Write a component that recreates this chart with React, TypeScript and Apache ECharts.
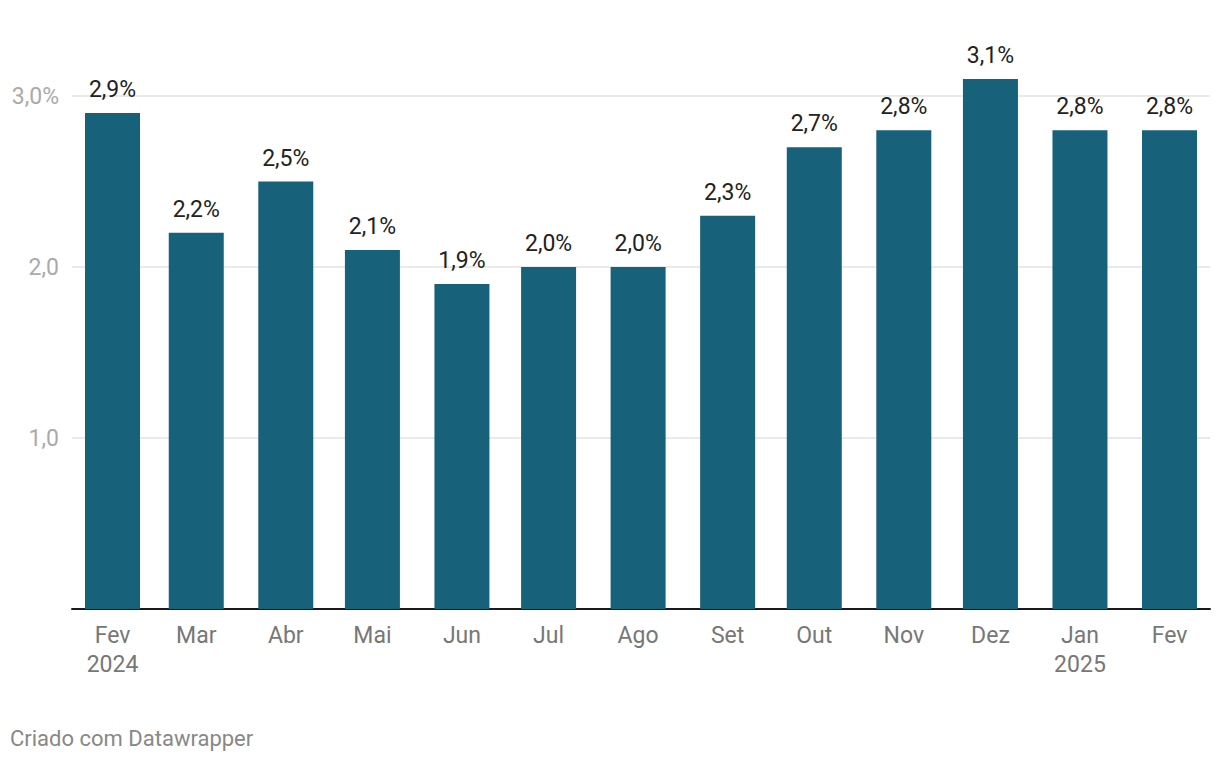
import React, { useEffect, useRef } from "react";
import * as echarts from "echarts";

const monthDates = [
  "2024-02-01", "2024-03-01", "2024-04-01", "2024-05-01", "2024-06-01", "2024-07-01",
  "2024-08-01", "2024-09-01", "2024-10-01", "2024-11-01", "2024-12-01", "2025-01-01", "2025-02-01",
];
const categories = ["Fev\n2024", "Mar", "Abr", "Mai", "Jun", "Jul", "Ago", "Set", "Out", "Nov", "Dez", "Jan\n2025", "Fev"];
const values = [2.9, 2.2, 2.5, 2.1, 1.9, 2.0, 2.0, 2.3, 2.7, 2.8, 3.1, 2.8, 2.8];
const yTicks = [0, 1, 2, 3];
const yTickLabels = ["", "1,0", "2,0", "3,0%"];
const footer = "Criado com Datawrapper";

const FONT = "Roboto, 'Noto Sans', sans-serif";
const DAY = 86400000;

function toDay(s: string) {
  const [y, m, d] = s.split("-").map(Number);
  return Math.round(Date.UTC(y, m - 1, d) / DAY);
}

export default function App() {
  const ref = useRef<HTMLDivElement>(null);
  useEffect(() => {
    if (!ref.current) return;
    const chart = echarts.init(ref.current, null, { renderer: "svg" });
    const day0 = toDay(monthDates[0]);
    const days = monthDates.map((s) => toDay(s) - day0);
    const data = days.map((d, i) => [d, values[i]]);
    const unit = 171;
    const baseY = 609;
    const yMax = 3.5;
    const top = baseY - yMax * unit;
    const firstX = 112.5;
    const lastX = 1169.5;
    const spanDays = days[days.length - 1];
    const pxPerDay = (lastX - firstX) / spanDays;
    const padDays = 15;
    const gridLeft = firstX - padDays * pxPerDay;
    const gridRight = 1220 - (lastX + padDays * pxPerDay);
    const gl = "#e3e3e3";
    chart.setOption({
      animation: false,
      textStyle: { fontFamily: FONT },
      grid: [
        { left: gridLeft, right: gridRight, top, bottom: 762 - baseY },
        { left: 72, right: 10, top, bottom: 762 - baseY },
      ],
      xAxis: [
        {
          type: "value",
          gridIndex: 0,
          min: -padDays,
          max: spanDays + padDays,
          axisLine: { show: false },
          axisTick: { show: false },
          splitLine: { show: false },
          axisLabel: {
            customValues: days,
            color: "#777777",
            fontSize: 23,
            lineHeight: 29,
            margin: 12,
            fontFamily: FONT,
            showMinLabel: true,
            showMaxLabel: true,
            formatter: (v: number) => {
              const i = days.indexOf(Math.round(v));
              return i >= 0 ? categories[i] : "";
            },
          },
        },
        {
          type: "value",
          gridIndex: 1,
          min: 0,
          max: 1,
          axisLine: { show: true, onZero: false, lineStyle: { color: "#1a1a1a", width: 2 } },
          axisTick: { show: false },
          axisLabel: { show: false },
          splitLine: { show: false },
        },
      ],
      yAxis: [
        {
          type: "value",
          gridIndex: 0,
          min: 0,
          max: yMax,
          interval: 1,
          axisLine: { show: false },
          axisTick: { show: false },
          axisLabel: { show: false },
          splitLine: { show: false },
        },
        {
          type: "value",
          gridIndex: 1,
          min: 0,
          max: yMax,
          interval: 1,
          axisLine: { show: false },
          axisTick: { show: false },
          splitLine: {
            show: true,
            lineStyle: { color: [gl, gl, gl, gl, "rgba(0,0,0,0)"], width: 1.5 },
          },
          axisLabel: {
            color: "#aaaaaa",
            fontSize: 23,
            margin: 13,
            fontFamily: FONT,
            formatter: (v: number) => {
              const i = yTicks.indexOf(v);
              return i >= 0 ? yTickLabels[i] : "";
            },
          },
        },
      ],
      series: [
        {
          type: "bar",
          xAxisIndex: 0,
          yAxisIndex: 0,
          data,
          barWidth: 55,
          z: 3,
          itemStyle: { color: "#17617b" },
          label: {
            show: true,
            position: "top",
            distance: 12,
            color: "#222222",
            fontSize: 23,
            fontFamily: FONT,
            formatter: (p: any) => p.value[1].toFixed(1).replace(".", ",") + "%",
          },
        },
      ],
      graphic: [
        {
          type: "text",
          left: 10,
          top: 727,
          style: { text: footer, fill: "#888888", fontSize: 22, fontFamily: FONT },
        },
      ],
    });
    return () => chart.dispose();
  }, []);
  return (
    <div
      ref={ref}
      style={{ position: "fixed", left: 0, top: 0, width: 1220, height: 762, background: "#ffffff" }}
    />
  );
}
